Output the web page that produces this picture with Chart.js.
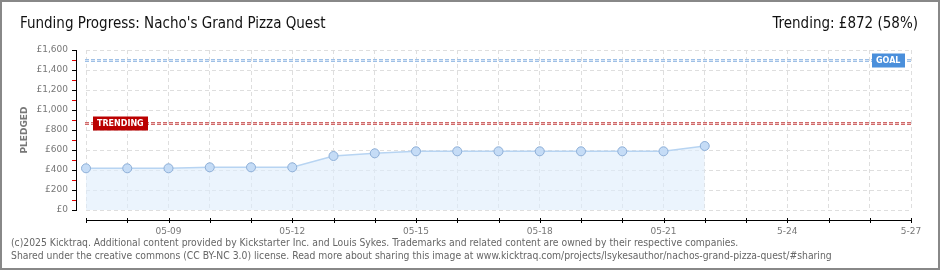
<!doctype html>
<html lang="en">
  <head>
    <meta charset="utf-8">
    <title>Funding Progress: Nacho's Grand Pizza Quest</title>
    <style>
      html, body { margin: 0; padding: 0; background: #fff; }
      canvas { display: block; }
    </style>
  </head>
  <body>
    <canvas id="myChart" width="940" height="270"></canvas>

    <script src="https://cdn.jsdelivr.net/npm/chart.js"></script>
    <script>
        // days of the campaign shown on the x axis
        const dates = ['05-07', '05-08', '05-09', '05-10', '05-11', '05-12', '05-13',
                       '05-14', '05-15', '05-16', '05-17', '05-18', '05-19', '05-20',
                       '05-21', '05-22', '05-23', '05-24', '05-25', '05-26', '05-27'];
        // only every third day gets a label
        const xTickLabels = ['', '', '05-09', '', '', '05-12', '', '', '05-15', '', '', '05-18',
                             '', '', '05-21', '', '', '5-24', '', '', '5-27'];
        // pledged total (GBP) per day
        const pledged = [417, 417, 417, 427, 427, 427, 540, 567, 587, 587, 587, 587, 587, 587, 587, 640];
        const yTicks = [0, 200, 400, 600, 800, 1000, 1200, 1400, 1600];
        const goal = 1500;
        const trending = 872;
        const trendingPct = 58;

        const titleText = "Funding Progress: Nacho's Grand Pizza Quest";
        const footerLines = [
            '(c)2025 Kicktraq. Additional content provided by Kickstarter Inc. and Louis Sykes. Trademarks and related content are owned by their respective companies.',
            'Shared under the creative commons (CC BY-NC 3.0) license. Read more about sharing this image at www.kicktraq.com/projects/lsykesauthor/nachos-grand-pizza-quest/#sharing'
        ];
    </script>

    <script>
        const gbp = (v) => '£' + v.toLocaleString('en-GB');

        const drawTag = (ctx, text, x, y, w, h, bg) => {
            ctx.fillStyle = bg;
            ctx.fillRect(x, y, w, h);
            ctx.fillStyle = '#fff';
            ctx.font = 'bold 8px "DejaVu Sans"';
            ctx.textAlign = 'left';
            ctx.textBaseline = 'middle';
            ctx.fillText(text, x + 4, y + h / 2 + 0.5);
        };

        const dashedRef = (ctx, y, x0, x1, outer, inner) => {
            ctx.save();
            ctx.setLineDash([4, 2]);
            ctx.lineWidth = 3;
            ctx.strokeStyle = outer;
            ctx.beginPath();
            ctx.moveTo(x0, y);
            ctx.lineTo(x1, y);
            ctx.stroke();
            ctx.lineWidth = 1;
            ctx.strokeStyle = inner;
            ctx.beginPath();
            ctx.moveTo(x0, y);
            ctx.lineTo(x1, y);
            ctx.stroke();
            ctx.restore();
        };

        const decor = {
            id: 'decor',
            beforeDraw(chart) {
                const ctx = chart.ctx;
                ctx.save();
                ctx.fillStyle = '#fff';
                ctx.fillRect(0, 0, chart.width, chart.height);
                ctx.restore();
            },
            afterDraw(chart) {
                const ctx = chart.ctx;
                const x = chart.scales.x;
                const y = chart.scales.y;
                const area = chart.chartArea;
                ctx.save();

                // reference lines
                const gy = Math.round(y.getPixelForValue(goal)) + 0.5;
                const ty = Math.round(y.getPixelForValue(trending)) + 0.5;
                dashedRef(ctx, gy, area.left - 1, area.right + 1, '#9fc0e6', '#d3e3f5');
                dashedRef(ctx, ty, area.left - 1, area.right + 1, '#cf6a6a', '#eeb8b8');
                drawTag(ctx, 'GOAL', 872, gy - 7, 33, 14, '#4a8fdb');
                drawTag(ctx, 'TRENDING', 93, ty - 7, 55, 14, '#bb0000');

                // y axis
                const yx = Math.round(area.left) - 10;
                ctx.fillStyle = '#000';
                ctx.fillRect(yx, Math.round(area.top), 1, Math.round(area.bottom - area.top) + 1);
                yTicks.forEach((v) => {
                    const py = Math.round(y.getPixelForValue(v));
                    ctx.fillStyle = '#000';
                    ctx.fillRect(yx - 4, py, 5, 1);
                    if (v < 1600) {
                        const my = Math.round(y.getPixelForValue(v + 100));
                        ctx.fillStyle = '#e00000';
                        ctx.fillRect(yx - 4, my, 4, 1);
                    }
                });

                // x axis
                const xy = Math.round(area.bottom) + 10;
                ctx.fillStyle = '#000';
                ctx.fillRect(Math.round(area.left), xy, Math.round(area.right - area.left) + 1, 1);
                dates.forEach((d, i) => {
                    const px = Math.round(x.getPixelForValue(i));
                    ctx.fillRect(px, xy - 2, 1, 5);
                });

                // y title
                ctx.save();
                ctx.translate(25, 130);
                ctx.rotate(-Math.PI / 2);
                ctx.fillStyle = '#777';
                ctx.font = 'bold 9px "DejaVu Sans"';
                ctx.textAlign = 'center';
                ctx.textBaseline = 'middle';
                ctx.fillText('PLEDGED', 0, 0);
                ctx.restore();

                // header
                ctx.fillStyle = '#111';
                ctx.font = '15px "DejaVu Sans Condensed"';
                ctx.textBaseline = 'middle';
                ctx.textAlign = 'left';
                ctx.fillText(titleText, 20, 24);
                ctx.textAlign = 'right';
                ctx.fillText('Trending: ' + gbp(trending) + ' (' + trendingPct + '%)', 918, 24);

                // footer
                ctx.fillStyle = '#666';
                ctx.font = '10.3px "DejaVu Sans Condensed"';
                ctx.textAlign = 'left';
                ctx.fillText(footerLines[0], 11, 243);
                ctx.fillText(footerLines[1], 11, 256);

                // frame
                ctx.strokeStyle = '#888';
                ctx.lineWidth = 2;
                ctx.strokeRect(1, 1, chart.width - 2, chart.height - 2);
                ctx.restore();
            }
        };

        const config = {
            type: 'line',
            data: {
                labels: dates,
                datasets: [{
                    label: 'Pledged',
                    data: pledged,
                    borderColor: '#b7d4f2',
                    borderWidth: 1.5,
                    backgroundColor: 'rgba(222, 236, 251, 0.6)',
                    fill: 'origin',
                    tension: 0,
                    pointRadius: 4.5,
                    pointBackgroundColor: '#c5dcf6',
                    pointBorderColor: '#8fb0d8',
                    pointBorderWidth: 1
                }]
            },
            options: {
                responsive: false,
                animation: false,
                layout: { padding: { left: 0, right: 29, top: 50, bottom: 0 } },
                plugins: {
                    legend: { display: false },
                    tooltip: { enabled: false }
                },
                scales: {
                    x: {
                        offset: false,
                        afterFit: (s) => { s.height = 60; },
                        grid: { color: '#dedede', drawTicks: false },
                        border: { display: false, dash: [4, 3] },
                        ticks: {
                            autoSkip: false,
                            maxRotation: 0,
                            padding: 16,
                            color: '#777',
                            font: { family: 'DejaVu Sans', size: 9 },
                            callback: (v, i) => xTickLabels[i]
                        }
                    },
                    y: {
                        min: 0,
                        max: 1600,
                        afterFit: (s) => { s.width = 86; },
                        grid: { color: '#dedede', drawTicks: false },
                        border: { display: false, dash: [4, 3] },
                        ticks: {
                            stepSize: 200,
                            padding: 18,
                            color: '#777',
                            font: { family: 'DejaVu Sans', size: 9 },
                            callback: (v) => gbp(v)
                        }
                    }
                }
            },
            plugins: [decor]
        };

        new Chart(document.getElementById('myChart'), config);
    </script>
  </body>
</html>
